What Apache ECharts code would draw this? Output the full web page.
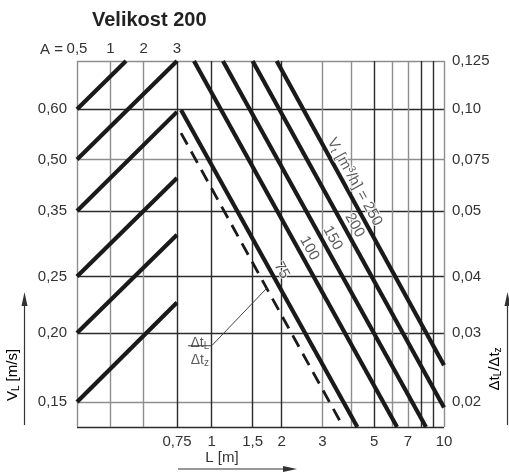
<!DOCTYPE html>
<html><head><meta charset="utf-8">
<script src="https://cdn.jsdelivr.net/npm/echarts@6/dist/echarts.min.js"></script>
<style>html,body{margin:0;padding:0;background:#fff}#c{width:509px;height:473px}</style>
</head><body><div id="c"></div>
<script>
// ---------------- data ----------------
const chartTitle = 'Velikost 200';
const aName = 'A =';
const aLabels = ['0,5', '1', '2', '3'];                       // A (top of left panel)
const vlLabels = ['0,15', '0,20', '0,25', '0,35', '0,50', '0,60'];        // V_L [m/s]
const dtLabels = ['0,02', '0,03', '0,04', '0,05', '0,075', '0,10', '0,125']; // Δt_L/Δt_z
// nomogram scale value (0 = bottom, 100 = top) of each labelled level
const levelScale = [6.8, 25.7, 41.1, 59.0, 73.1, 86.8, 100];
const lTickLabels = [1, 1.5, 2, 3, 5, 7, 10];                 // L [m] labels
const lGridValues = [1, 1.5, 2, 3, 4, 5, 6, 7, 8, 9, 10];
const lMin = 0.709, lMax = 10;
const lStartLabel = '0,75';
// A lines: [A index, scale] start and end
const aLineStarts = [[0, 86.8], [0, 73.1], [0, 59.0], [0, 41.1], [0, 25.7], [0, 6.8]];
const aLineEnds   = [[1.47, 100], [3, 100], [3, 86.1], [3, 68.0], [3, 52.5], [3, 34.0]];
// flow-rate lines: [L, scale] start and end
const flowRates  = [75, 100, 150, 200, 250];
const flowStarts = [[0.738, 86.6], [0.839, 100], [1.118, 100], [1.50, 100], [1.905, 100]];
const flowEnds   = [[4.236, 0], [6.28, 0], [8.365, 0], [10, 5.3], [10, 16.9]];
// dashed Δt_L/Δt_z line
const dtLine = [[0.738, 80.3], [3.685, 0]];

// ---------------- styling / placement ----------------
const FONT = '"Liberation Sans", Arial, sans-serif';
const DARK = '#2b2b2b', GREY = '#8e8e8e', TXT = '#333';
const flowLabelAt = [41.5, 47.5, 50.3, 53.8, 65.6];   // scale level where each line label sits
const calloutAnchor = [0.889, 22.2], calloutBarStart = 0.791, calloutBarEnd = 1.0, calloutHit = 37.9;

function pointOnLine(p0, p1, y) {
  const t = (p0[1] - y) / (p0[1] - p1[1]);
  const lx = Math.log10(p0[0]) + t * (Math.log10(p1[0]) - Math.log10(p0[0]));
  return [Math.pow(10, lx), y];
}
function fmtNum(v) { return String(v).replace('.', ','); }
function levelLabel(arr) {
  return v => { const i = levelScale.findIndex(x => Math.abs(x - v) < 0.01); return i >= 0 ? (arr[i] || '') : ''; };
}
const rich = {
  sub: { fontSize: 10, fontFamily: FONT, color: TXT, verticalAlign: 'bottom', lineHeight: 17 },
  sup: { fontSize: 10, fontFamily: FONT, color: TXT, verticalAlign: 'top', lineHeight: 17 },
  t: { fontSize: 15, fontFamily: FONT, color: TXT, lineHeight: 17 },
  ft: { fontSize: 14, fontFamily: FONT, color: TXT, lineHeight: 17 },
};

const series = [];
aLineStarts.forEach((s, i) => series.push({
  type: 'line', xAxisIndex: 0, yAxisIndex: 0, data: [s, aLineEnds[i]], symbol: 'none',
  lineStyle: { color: '#1a1a1a', width: 4.2 }, silent: true, z: 3
}));
flowRates.forEach((r, i) => series.push({
  type: 'line', xAxisIndex: 2, yAxisIndex: 1, data: [flowStarts[i], flowEnds[i]], symbol: 'none',
  lineStyle: { color: '#1a1a1a', width: 4.2 }, silent: true, z: 3
}));
series.push({
  type: 'line', xAxisIndex: 2, yAxisIndex: 1, data: dtLine, symbol: 'none',
  lineStyle: { color: '#1a1a1a', width: 2.8, type: [13, 8] }, silent: true, z: 3
});
const hit = pointOnLine(dtLine[0], dtLine[1], calloutHit);
series.push({
  type: 'line', xAxisIndex: 2, yAxisIndex: 1, symbol: 'none', silent: true, z: 3,
  data: [[calloutBarStart, calloutAnchor[1]], [calloutBarEnd, calloutAnchor[1]], hit],
  lineStyle: { color: '#444', width: 1 }
});
const labelData = flowRates.map((r, i) => ({
  value: pointOnLine(flowStarts[i], flowEnds[i], flowLabelAt[i]),
  label: { formatter: i === flowRates.length - 1 ? '{t|V}{sub|t}{t| [m}{sup|3}{t|/h] = ' + r + '}' : '{t|' + r + '}' }
}));
labelData.push({
  value: calloutAnchor,
  label: { rotate: 0, offset: [0, 6], formatter: '{ft|Δt}{sub|L}\n{ft|Δt}{sub|z}', textBorderWidth: 0 }
});
series.push({
  type: 'scatter', xAxisIndex: 2, yAxisIndex: 1, symbolSize: 1, itemStyle: { color: 'rgba(0,0,0,0)' },
  silent: true, z: 5, data: labelData,
  label: { show: true, position: 'inside', rotate: -61, offset: [0, -10], color: TXT, fontFamily: FONT, fontSize: 15,
           textBorderColor: '#fff', textBorderWidth: 2, rich: rich }
});

const axisText = { color: TXT, fontFamily: FONT, fontSize: 15 };
const option = {
  animation: false,
  backgroundColor: '#fff',
  title: { text: chartTitle, left: 87, top: 5, textStyle: { fontFamily: FONT, fontSize: 20, fontWeight: 'bold', color: '#222' } },
  grid: [
    { left: 77, top: 61, width: 100, height: 366 },
    { left: 177, top: 61, width: 267, height: 366 }
  ],
  xAxis: [
    { type: 'value', gridIndex: 0, position: 'top', min: 0, max: 3,
      axisLine: { show: false }, axisTick: { show: false, customValues: [0, 1, 2, 3] },
      axisLabel: Object.assign({ customValues: [0, 1, 2, 3], margin: 5, formatter: v => aLabels[Math.round(v)] }, axisText),
      splitLine: { show: true, lineStyle: { color: [GREY, GREY, GREY, DARK], width: 1.4 } } },
    { type: 'value', gridIndex: 0, position: 'bottom', min: 0, max: 3,
      axisLine: { show: false }, axisTick: { show: false, customValues: [3] },
      axisLabel: Object.assign({ customValues: [3], margin: 7, formatter: () => lStartLabel }, axisText),
      splitLine: { show: false } },
    { type: 'log', logBase: 10, gridIndex: 1, position: 'bottom', min: lMin, max: lMax,
      axisLine: { show: false }, axisTick: { show: false, customValues: lGridValues },
      axisLabel: Object.assign({ customValues: lTickLabels, margin: 7, formatter: v => fmtNum(v) }, axisText),
      splitLine: { show: true, lineStyle: { color: [DARK, DARK, DARK, GREY, GREY, DARK, GREY, GREY, DARK, DARK, GREY], width: 1.4 } },
      minorTick: { show: false }, minorSplitLine: { show: false } }
  ],
  yAxis: [
    { type: 'value', gridIndex: 0, position: 'left', min: 0, max: 100,
      axisLine: { show: false }, axisTick: { show: false, customValues: [0].concat(levelScale) },
      axisLabel: Object.assign({ customValues: levelScale.slice(0, vlLabels.length), margin: 10, formatter: levelLabel(vlLabels) }, axisText),
      splitLine: { show: true, lineStyle: { color: [DARK, GREY, DARK, DARK, DARK, GREY, DARK, GREY], width: 1.4 } } },
    { type: 'value', gridIndex: 1, position: 'right', min: 0, max: 100,
      axisLine: { show: false }, axisTick: { show: false, customValues: [0].concat(levelScale) },
      axisLabel: Object.assign({ customValues: levelScale, margin: 8, formatter: levelLabel(dtLabels) }, axisText),
      splitLine: { show: true, lineStyle: { color: [DARK, GREY, DARK, DARK, DARK, GREY, DARK, GREY], width: 1.4 } } }
  ],
  graphic: [
    { type: 'text', x: 63, y: 49.5,
      style: { text: aName, fill: TXT, font: '15px ' + FONT, align: 'right', verticalAlign: 'middle' } },
    { type: 'line', shape: { x1: 24.5, y1: 425, x2: 24.5, y2: 302 }, style: { stroke: '#333', lineWidth: 1.2 } },
    { type: 'polygon', shape: { points: [[24.5, 292], [21.5, 306], [27.5, 306]] }, style: { fill: '#333' } },
    { type: 'line', shape: { x1: 507.5, y1: 425, x2: 507.5, y2: 302 }, style: { stroke: '#333', lineWidth: 1.2 } },
    { type: 'polygon', shape: { points: [[507.5, 292], [504.5, 306], [510.5, 306]] }, style: { fill: '#333' } },
    { type: 'line', shape: { x1: 178, y1: 469, x2: 288, y2: 469 }, style: { stroke: '#333', lineWidth: 1.2 } },
    { type: 'polygon', shape: { points: [[297, 469], [283, 466], [283, 472]] }, style: { fill: '#333' } },
    { type: 'text', x: 13, y: 375, rotation: Math.PI / 2,
      style: { text: '{t|V}{sub|L}{t| [m/s]}', rich: rich, align: 'center', verticalAlign: 'middle' } },
    { type: 'text', x: 495, y: 369, rotation: Math.PI / 2,
      style: { text: '{t|Δt}{sub|L}{t|/Δt}{sub|z}', rich: rich, align: 'center', verticalAlign: 'middle' } },
    { type: 'text', x: 222, y: 458,
      style: { text: 'L [m]', fill: TXT, font: '15px ' + FONT, align: 'center', verticalAlign: 'middle' } }
  ],
  series: series
};
const chart = echarts.init(document.getElementById('c'), null, { renderer: 'canvas' });
chart.setOption(option);
</script></body></html>
